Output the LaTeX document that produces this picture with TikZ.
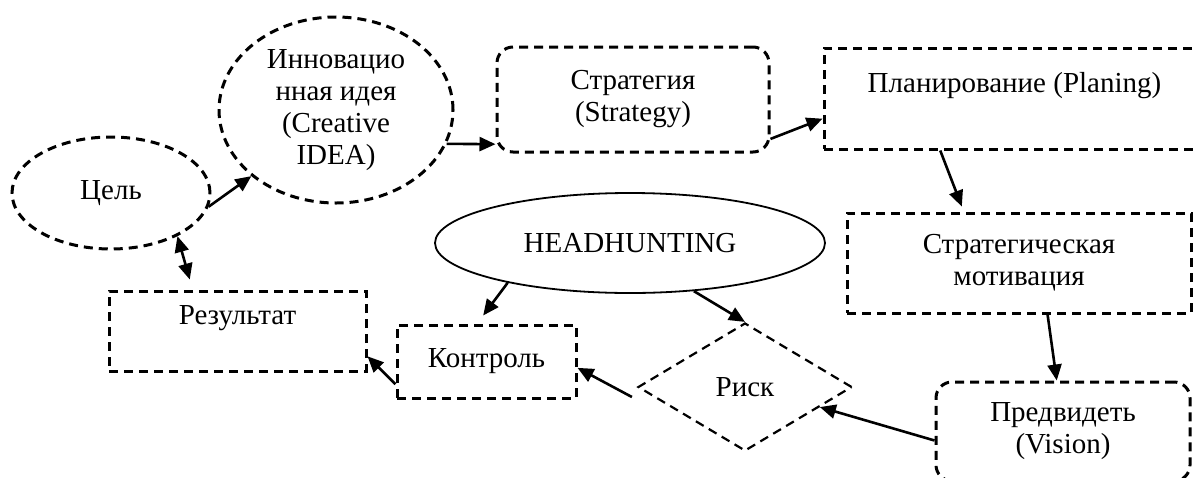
\documentclass[tikz,border=0pt]{standalone}
\usepackage{fontspec}
\setmainfont{Liberation Serif}
\usetikzlibrary{shapes.geometric,arrows.meta}
\begin{document}
\begin{tikzpicture}[x=0.5pt,y=-0.5pt,
    every node/.style={font=\fontsize{14.5}{16}\selectfont,align=center,inner sep=0pt},
    dline/.style={line width=1.5pt,dash pattern=on 4.5pt off 3pt},
    dbox/.style={draw,dline,rectangle},
    rdbox/.style={dbox,rounded corners=8pt},
    doval/.style={draw,dline,ellipse},
    arr/.style={line width=1.3pt,-{Triangle[length=8pt,width=7pt]}}]
    \useasboundingbox (0,0) rectangle (1198,477);
    \node[doval,minimum width=99pt,minimum height=56pt] (goal) at (111,193) {Цель};
    \node[doval,minimum width=117pt,minimum height=93pt] (idea) at (336,110) {Инновацио\\нная идея\\(Creative\\IDEA)};
    \node[rdbox,minimum width=136pt,minimum height=52.5pt] (strat) at (633,99.5) {Стратегия\\(Strategy)};
    \node[dbox,minimum width=190.5pt,minimum height=50.5pt] (plan) at (1014.5,98.5) {Планирование (Planing)\\ \mbox{}};
    \node[dbox,minimum width=172pt,minimum height=50pt] (motiv) at (1019,263) {Стратегическая\\мотивация};
    \node[rdbox,minimum width=127pt,minimum height=49.5pt] (vision) at (1063,431.5) {Предвидеть\\(Vision)};
    \node[draw,line width=0.9pt,ellipse,minimum width=195pt,minimum height=50pt] (hh) at (630,243) {HEADHUNTING};
    \node[draw,line width=1.1pt,dash pattern=on 4.5pt off 3pt,diamond,minimum width=107pt,minimum height=64pt] (risk) at (745,387) {Риск};
    \node[dbox,minimum width=89.5pt,minimum height=36.5pt] (control) at (486.5,361.5) {Контроль};
    \node[dbox,minimum width=128.5pt,minimum height=40pt] (result) at (237.5,331) {Результат\\ \mbox{}};

    \draw[arr] (goal.-8) -- (idea.218);
    \draw[arr,{Triangle[length=8pt,width=7pt]}-{Triangle[length=8pt,width=7pt]}] (goal.-33) -- ([yshift=5pt]result.139);
    \draw[arr] (idea.-17) -- (strat.198);
    \draw[arr] (strat.-16) -- (plan.186);
    \draw[arr] (plan.215) -- ([yshift=2.5pt]motiv.138);
    \draw[arr] (motiv.-61) -- (vision.97);
    \draw[arr] (vision.184) -- (risk.-15);
    \draw[arr] ([shift={(-2.5pt,-5pt)}]risk.west) -- (control.-4);
    \draw[arr] (control.194) -- (result.-11);
    \draw[arr] (hh.198) -- ([yshift=4pt]control.95);
    \draw[arr] (hh.-37) -- (risk.north);
\end{tikzpicture}
\end{document}
